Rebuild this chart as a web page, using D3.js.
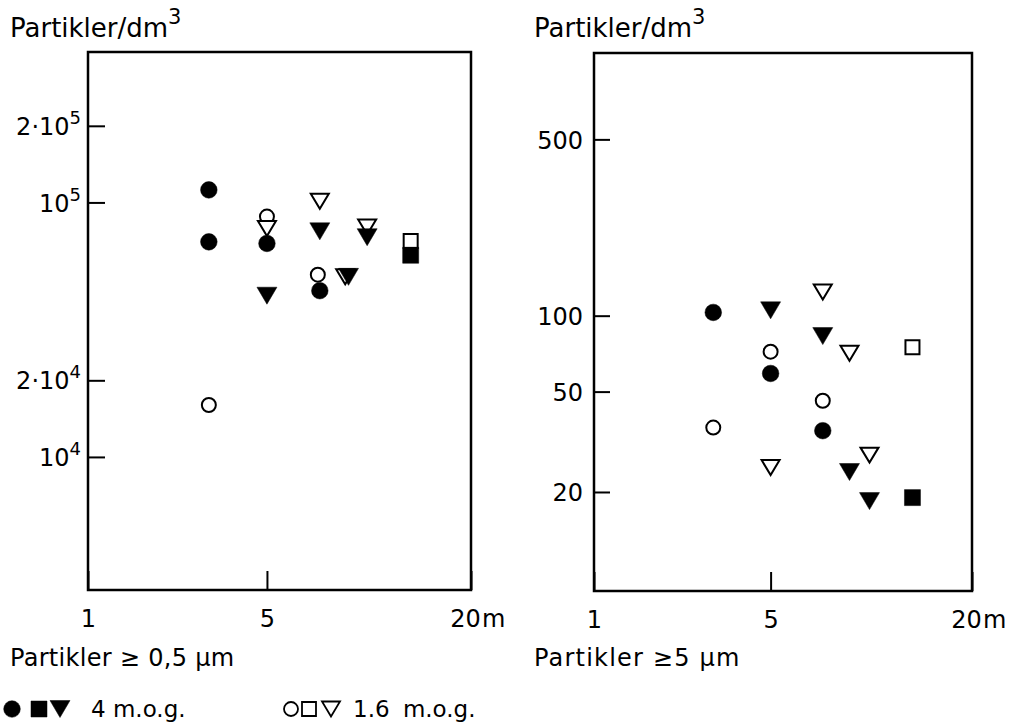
<!DOCTYPE html>
<html>
<head>
<meta charset="utf-8">
<script src="https://cdn.jsdelivr.net/npm/d3@7"></script>
<style>
  html, body { margin: 0; padding: 0; background: #fff; }
  svg { display: block; }
  text { font-family: "DejaVu Sans", sans-serif; fill: #000; }
</style>
</head>
<body>
<svg id="chart" width="1017" height="724"></svg>
<script>
// ---------------- data ----------------
const xTicks = [1, 5, 20];
const xTickLabels = ["1", "5", "20"];
const xUnit = "m";
const yTitle = "Partikler/dm^3";

// left panel: Partikler >= 0,5 µm
const leftTitle = "Partikler \u2265 0,5 \u00b5m";
const leftYDomain = [3000, 390000];
const leftYTicks = [1e4, 2e4, 1e5, 2e5];
const leftYTickLabels = ["10^4", "2\u00b710^4", "10^5", "2\u00b710^5"];
const leftOpenCircles    = [[3.2, 16000], [5, 88000], [7.2, 52000]];
const leftOpenSquares    = [[13.5, 70500]];
const leftOpenTriangles  = [[5, 79000], [7.3, 101000], [8.7, 51000], [10.1, 80000]];
const leftFilledCircles  = [[3.2, 112000], [3.2, 70000], [5, 69000], [7.3, 45000]];
const leftFilledSquares  = [[13.5, 62000]];
const leftFilledTriangles= [[5, 43000], [7.3, 77000], [8.9, 51000], [10.1, 73000]];

// right panel: Partikler >= 5 µm
const rightTitle = "Partikler \u22655 \u00b5m";
const rightYDomain = [8.1, 1100];
const rightYTicks = [20, 50, 100, 500];
const rightYTickLabels = ["20", "50", "100", "500"];
const rightOpenCircles    = [[3.2, 36], [5, 72], [7.3, 46]];
const rightOpenSquares    = [[13.5, 75]];
const rightOpenTriangles  = [[5, 25], [7.3, 124], [8.8, 71], [10.1, 28]];
const rightFilledCircles  = [[3.2, 103], [5, 59], [7.3, 35]];
const rightFilledSquares  = [[13.5, 19]];
const rightFilledTriangles= [[5, 105], [7.3, 83], [8.8, 24], [10.1, 18.4]];

// legend
const legendFilledLabel = "4 m.o.g.";
const legendOpenLabel = "1.6 m.o.g.";

// ---------------- drawing ----------------
const svg = d3.select("#chart");

function addSupText(sel, str, supSize, supDy) {
  const parts = str.split("^");
  sel.text(null);
  sel.append("tspan").text(parts[0]);
  if (parts.length > 1) {
    sel.append("tspan").attr("font-size", supSize).attr("dy", supDy).text(parts[1]);
  }
}

function markerPath(shape, filled) {
  if (shape === "triangle") {
    const hw = filled ? 10 : 9, hh = filled ? 8.5 : 7.5;
    return `M${-hw},${-hh}L${hw},${-hh}L0,${hh}Z`;
  }
  if (shape === "square") {
    const h = filled ? 8 : 7;
    return `M${-h},${-h}H${h}V${h}H${-h}Z`;
  }
  const r = filled ? 8.3 : 7;
  return `M${r},0A${r},${r},0,1,1,${-r},0A${r},${r},0,1,1,${r},0Z`;
}

function drawMarkers(g, data, shape, filled, x, y) {
  g.selectAll(null).data(data).enter().append("path")
    .attr("transform", d => `translate(${x(d[0])},${y(d[1])})`)
    .attr("d", markerPath(shape, filled))
    .attr("fill", filled ? "#000" : "#fff")
    .attr("stroke", "#000")
    .attr("stroke-width", filled ? 0.5 : 2)
    .attr("stroke-linejoin", "miter");
}

function drawPanel(p) {
  const g = svg.append("g");
  const x = d3.scaleSymlog().constant(1).domain([1, 20]).range([p.x0, p.x1]);
  const y = d3.scaleLog().domain(p.yDomain).range([p.y1, p.y0]);

  // y axis (ticks pointing inward)
  const yAxis = g.append("g")
    .attr("transform", `translate(${p.x0},0)`)
    .call(d3.axisLeft(y).tickValues(p.yTicks).tickSize(-p.yTickLen).tickPadding(p.yLabelGap)
      .tickFormat((d, i) => p.yTickLabels[i]));
  yAxis.select(".domain").remove();
  yAxis.selectAll(".tick line").attr("stroke", "#000").attr("stroke-width", 2);
  yAxis.selectAll(".tick text")
    .attr("font-family", "DejaVu Sans, sans-serif")
    .attr("font-size", 24)
    .attr("dy", "0.36em")
    .each(function(d, i) { addSupText(d3.select(this), p.yTickLabels[i], 18, -11); });

  // x axis
  const xAxis = g.append("g")
    .attr("transform", `translate(0,${p.y1})`)
    .call(d3.axisBottom(x).tickValues(xTicks).tickSize(-19).tickPadding(20)
      .tickFormat((d, i) => xTickLabels[i]));
  xAxis.select(".domain").remove();
  xAxis.selectAll(".tick line").attr("stroke", "#000").attr("stroke-width", 2);
  xAxis.selectAll(".tick text")
    .attr("font-family", "DejaVu Sans, sans-serif")
    .attr("font-size", 24)
    .attr("dx", (d, i) => i === xTicks.length - 1 ? -6 : 0);
  g.append("text")
    .attr("x", x(20) + 11).attr("y", p.y1 + 37)
    .attr("font-size", 24)
    .text(xUnit);

  // frame
  g.append("rect")
    .attr("x", p.x0).attr("y", p.y0)
    .attr("width", p.x1 - p.x0).attr("height", p.y1 - p.y0)
    .attr("fill", "none").attr("stroke", "#000").attr("stroke-width", 2.5);

  // y title
  const t = g.append("text").attr("x", p.titleX).attr("y", 37).attr("font-size", 26);
  addSupText(t, yTitle, 21, -13);

  // bottom title
  g.append("text").attr("x", p.titleX).attr("y", 666).attr("font-size", 24)
    .attr("letter-spacing", p.bottomSpacing).text(p.title);

  // markers: open first, then filled on top
  const m = g.append("g");
  drawMarkers(m, p.oc, "circle", false, x, y);
  drawMarkers(m, p.os, "square", false, x, y);
  drawMarkers(m, p.ot, "triangle", false, x, y);
  drawMarkers(m, p.fc, "circle", true, x, y);
  drawMarkers(m, p.fs, "square", true, x, y);
  drawMarkers(m, p.ft, "triangle", true, x, y);
}

drawPanel({
  x0: 88, x1: 471, y0: 52, y1: 590, yTickLen: 17, yLabelGap: 7, titleX: 10, bottomSpacing: 0.3,
  yDomain: leftYDomain, yTicks: leftYTicks, yTickLabels: leftYTickLabels, title: leftTitle,
  oc: leftOpenCircles, os: leftOpenSquares, ot: leftOpenTriangles,
  fc: leftFilledCircles, fs: leftFilledSquares, ft: leftFilledTriangles
});
drawPanel({
  x0: 594, x1: 972, y0: 53, y1: 591, yTickLen: 16, yLabelGap: 11, titleX: 534, bottomSpacing: 1.2,
  yDomain: rightYDomain, yTicks: rightYTicks, yTickLabels: rightYTickLabels, title: rightTitle,
  oc: rightOpenCircles, os: rightOpenSquares, ot: rightOpenTriangles,
  fc: rightFilledCircles, fs: rightFilledSquares, ft: rightFilledTriangles
});

// legend
const lg = svg.append("g");
const ly = 709;
const legendItems = [
  { cx: 12, shape: "circle", filled: true },
  { cx: 39, shape: "square", filled: true },
  { cx: 60, shape: "triangle", filled: true },
  { cx: 291, shape: "circle", filled: false },
  { cx: 309, shape: "square", filled: false },
  { cx: 331, shape: "triangle", filled: false }
];
legendItems.forEach(it => {
  lg.append("path")
    .attr("transform", `translate(${it.cx},${ly})`)
    .attr("d", markerPath(it.shape, it.filled))
    .attr("fill", it.filled ? "#000" : "#fff")
    .attr("stroke", "#000")
    .attr("stroke-width", it.filled ? 0.5 : 1.8);
});
lg.append("text").attr("x", 91).attr("y", 717).attr("font-size", 23).text(legendFilledLabel);
lg.append("text").attr("x", 353).attr("y", 717).attr("font-size", 23).attr("word-spacing", 6).text(legendOpenLabel);
</script>
</body>
</html>
